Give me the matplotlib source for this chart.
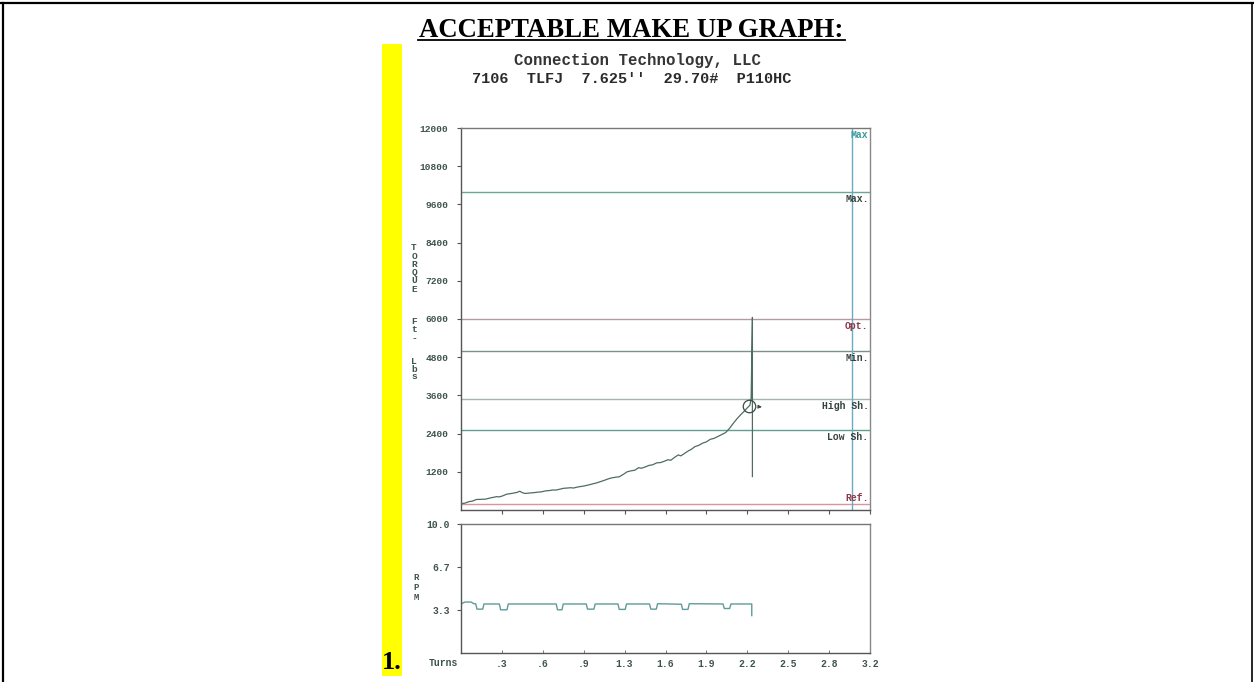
import matplotlib
matplotlib.use("Agg")
import matplotlib.pyplot as plt
from matplotlib.patches import Rectangle
from matplotlib.lines import Line2D

W, H = 1254, 682

# ---- text ----
title = "ACCEPTABLE MAKE UP GRAPH:"
company = "Connection Technology, LLC"
product = "7106  TLFJ  7.625''  29.70#  P110HC"
item_number = "1."
torque_label_top = "TORQUE"
torque_label_unit = "Ft-Lbs"
rpm_label = "RPM"
turns_label = "Turns"

# ---- torque vs turns ----
torque_turns = [0.00, 0.03, 0.06, 0.09, 0.12, 0.15, 0.19, 0.22, 0.25, 0.28,
                0.30, 0.33, 0.36, 0.38, 0.41, 0.44, 0.46, 0.48, 0.50, 0.53,
                0.57, 0.60, 0.63, 0.66, 0.69, 0.72, 0.74, 0.77, 0.80, 0.83,
                0.86, 0.88, 0.91, 0.94, 0.97, 1.00, 1.03, 1.06, 1.09, 1.12,
                1.15, 1.18, 1.21, 1.24, 1.27, 1.30, 1.33, 1.36, 1.39, 1.41,
                1.44, 1.47, 1.50, 1.53, 1.56, 1.59, 1.62, 1.64, 1.67, 1.70,
                1.72, 1.75, 1.78, 1.80, 1.83, 1.86, 1.89, 1.92, 1.95, 1.98,
                2.01, 2.04, 2.07, 2.10, 2.13, 2.16, 2.19, 2.22, 2.24, 2.26,
                2.27, 2.275, 2.28, 2.28]
torque_ftlbs = [200, 215, 260, 280, 330, 335, 340, 370, 395, 420,
                410, 450, 500, 510, 530, 555, 590, 545, 520, 530,
                545, 560, 570, 600, 610, 630, 625, 650, 680, 690,
                700, 690, 720, 740, 760, 790, 820, 850, 890, 930,
                975, 1010, 1030, 1046, 1120, 1200, 1230, 1250, 1330, 1310,
                1350, 1400, 1420, 1480, 1490, 1530, 1580, 1560, 1650, 1730,
                1700, 1780, 1860, 1900, 1990, 2030, 2100, 2140, 2220, 2250,
                2310, 2370, 2430, 2560, 2720, 2870, 3000, 3120, 3210, 3290,
                3500, 4800, 6050, 1050]

# shoulder point marked with a circle
shoulder_turns = 2.253
shoulder_torque = 3267

# torque limit lines
limit_names = ["Max", "Max.", "Opt.", "Min.", "High Sh.", "Low Sh.", "Ref."]
limit_values = [12000, 10000, 6000, 5000, 3500, 2500, 200]
max_turns = 3.06

# ---- rpm vs turns ----
rpm_turns = [0.00, 0.03, 0.08, 0.10, 0.115, 0.125, 0.170, 0.180, 0.300, 0.310,
             0.360, 0.370, 0.745, 0.755, 0.790, 0.800, 0.980, 0.990, 1.040, 1.050,
             1.228, 1.238, 1.285, 1.295, 1.475, 1.485, 1.528, 1.538, 1.724, 1.734,
             1.776, 1.786, 2.050, 2.060, 2.102, 2.112, 2.275, 2.275]
rpm_values = [3.80, 3.95, 3.95, 3.82, 3.82, 3.40, 3.40, 3.80, 3.80, 3.35,
              3.35, 3.80, 3.80, 3.35, 3.35, 3.80, 3.80, 3.40, 3.40, 3.80,
              3.80, 3.38, 3.38, 3.80, 3.80, 3.40, 3.40, 3.82, 3.78, 3.38,
              3.38, 3.82, 3.80, 3.45, 3.45, 3.80, 3.80, 2.90]

# ---- axis ticks ----
torque_ticks = [1200, 2400, 3600, 4800, 6000, 7200, 8400, 9600, 10800, 12000]
turn_ticks = [0.32, 0.64, 0.96, 1.28, 1.60, 1.92, 2.24, 2.56, 2.88, 3.20]
turn_labels = [".3", ".6", ".9", "1.3", "1.6", "1.9", "2.2", "2.5", "2.8", "3.2"]
rpm_ticks = [3.3, 6.7, 10.0]
rpm_tick_labels = ["3.3", "6.7", "10.0"]

# ---- styling ----
MONO = ["Liberation Mono", "DejaVu Sans Mono"]
SERIF = ["Liberation Serif", "DejaVu Serif"]
limit_colors = ["#4a9c9c", "#6aa898", "#b59aa0", "#7a928b", "#a3b6ae", "#5f9f90", "#d8959c"]
label_colors = ["#3a9a9a", "#34423f", "#8a3a48", "#34423f", "#34423f", "#34423f", "#8a3a48"]
tick_text = "#3e544d"
curve_color = "#4f6c62"


def fx(x):
    return x / W


def fy(y):
    return 1 - y / H


fig = plt.figure(figsize=(W / 100, H / 100), dpi=100)
fig.patch.set_facecolor("white")

# page frame
fig.add_artist(Line2D([fx(1), fx(W - 1)], [fy(2.5), fy(2.5)], color="black", lw=1.6))
fig.add_artist(Line2D([fx(2.5), fx(2.5)], [fy(2.5), fy(H)], color="black", lw=1.6))
fig.add_artist(Line2D([fx(W - 2), fx(W - 2)], [fy(2.5), fy(H)], color="black", lw=1.2))

# yellow highlight strip and item number
fig.add_artist(Rectangle((fx(382), fy(676)), (402 - 382) / W, (676 - 44) / H,
                         facecolor="#ffff00", edgecolor="none"))
fig.text(fx(382), fy(669), item_number, family=SERIF, weight="bold", fontsize=19,
         ha="left", va="baseline", color="black")

# headings
fig.text(fx(631.5), fy(37), title, family=SERIF, weight="bold", fontsize=19.3,
         ha="center", va="baseline", color="black")
fig.add_artist(Line2D([fx(418), fx(845)], [fy(40), fy(40)], color="black", lw=1.3))
fig.text(fx(638), fy(60), company, family=MONO, weight="bold", fontsize=11.3,
         ha="center", va="center", color="#353535")
fig.text(fx(632), fy(79), product, family=MONO, weight="bold", fontsize=11.0,
         ha="center", va="center", color="#2a2a2a")

# ---- torque panel ----
ax = fig.add_axes([fx(461), fy(510), 409 / W, 382 / H])
ax.set_xlim(0, 3.2)
ax.set_ylim(0, 12000)

for name, val, lc, tc in zip(limit_names, limit_values, limit_colors, label_colors):
    if val < 12000:
        ax.axhline(val, color=lc, lw=1.0, zorder=1)
    dy = 6 if name == "Ref." else -7
    ax.annotate(name, xy=(1, val), xycoords=("axes fraction", "data"),
                xytext=(-1.5, dy), textcoords="offset pixels", ha="right",
                va="center", family=MONO, weight="bold", fontsize=7, color=tc)

ax.axvline(max_turns, color="#6aaac2", lw=1.0, zorder=1)
ax.plot(torque_turns, torque_ftlbs, color=curve_color, lw=0.9, zorder=3)
ax.plot([shoulder_turns], [shoulder_torque], marker="o", ms=9, mfc="none",
        mec="#3c4c48", mew=0.9, zorder=4)
ax.annotate("", xy=(shoulder_turns, shoulder_torque), xycoords="data",
            xytext=(13, -1), textcoords="offset pixels",
            arrowprops=dict(arrowstyle="<|-", color="#3c4c48", lw=0.8,
                            shrinkA=0, shrinkB=8, mutation_scale=5))

ax.set_yticks(torque_ticks)
ax.set_yticklabels([str(v) for v in torque_ticks])
ax.set_xticks(turn_ticks)
ax.set_xticklabels([])
ax.tick_params(axis="y", direction="out", length=3, width=0.8, color="#555555",
               pad=6, labelsize=6.8, labelcolor=tick_text)
ax.tick_params(axis="x", direction="out", length=3, width=0.8, color="#555555")
for lab in ax.get_yticklabels():
    lab.set_family(MONO)
    lab.set_weight("bold")
for side, col in [("left", "#555555"), ("bottom", "#555555"),
                  ("top", "#777777"), ("right", "#888888")]:
    ax.spines[side].set_color(col)
    ax.spines[side].set_linewidth(1.0)

# vertical axis title, stacked letters
for i, ch in enumerate(torque_label_top):
    fig.text(fx(414), fy(248 + 8.2 * i), ch, family=MONO, weight="bold",
             fontsize=6.8, ha="center", va="center", color=tick_text)
for ch, y in zip(torque_label_unit, [321, 329, 339, 361, 369, 377]):
    fig.text(fx(414), fy(y), ch, family=MONO, weight="bold",
             fontsize=6.8, ha="center", va="center", color=tick_text)

# ---- rpm panel ----
ax2 = fig.add_axes([fx(461), fy(653), 409 / W, 129 / H])
ax2.set_xlim(0, 3.2)
ax2.set_ylim(0, 10)
ax2.plot(rpm_turns, rpm_values, color="#5e9c9a", lw=1.0)
ax2.set_yticks(rpm_ticks)
ax2.set_yticklabels(rpm_tick_labels)
ax2.set_xticks(turn_ticks)
ax2.set_xticklabels(turn_labels)
ax2.tick_params(axis="y", direction="out", length=3, width=0.8, color="#555555",
                pad=5, labelsize=7, labelcolor=tick_text)
ax2.tick_params(axis="x", direction="in", length=2, width=0.7, color="#777777",
                pad=4, labelsize=7, labelcolor=tick_text)
for lab in ax2.get_yticklabels() + ax2.get_xticklabels():
    lab.set_family(MONO)
    lab.set_weight("bold")
for side, col in [("left", "#555555"), ("bottom", "#555555"),
                  ("top", "#777777"), ("right", "#888888")]:
    ax2.spines[side].set_color(col)
    ax2.spines[side].set_linewidth(1.0)

fig.text(fx(443), fy(663), turns_label, family=MONO, weight="bold", fontsize=7,
         ha="center", va="center", color=tick_text)
for ch, y in zip(rpm_label, [578, 588, 597]):
    fig.text(fx(416), fy(y), ch, family=MONO, weight="bold", fontsize=6.5,
             ha="center", va="center", color=tick_text)

fig.savefig("out.png", dpi=100)
